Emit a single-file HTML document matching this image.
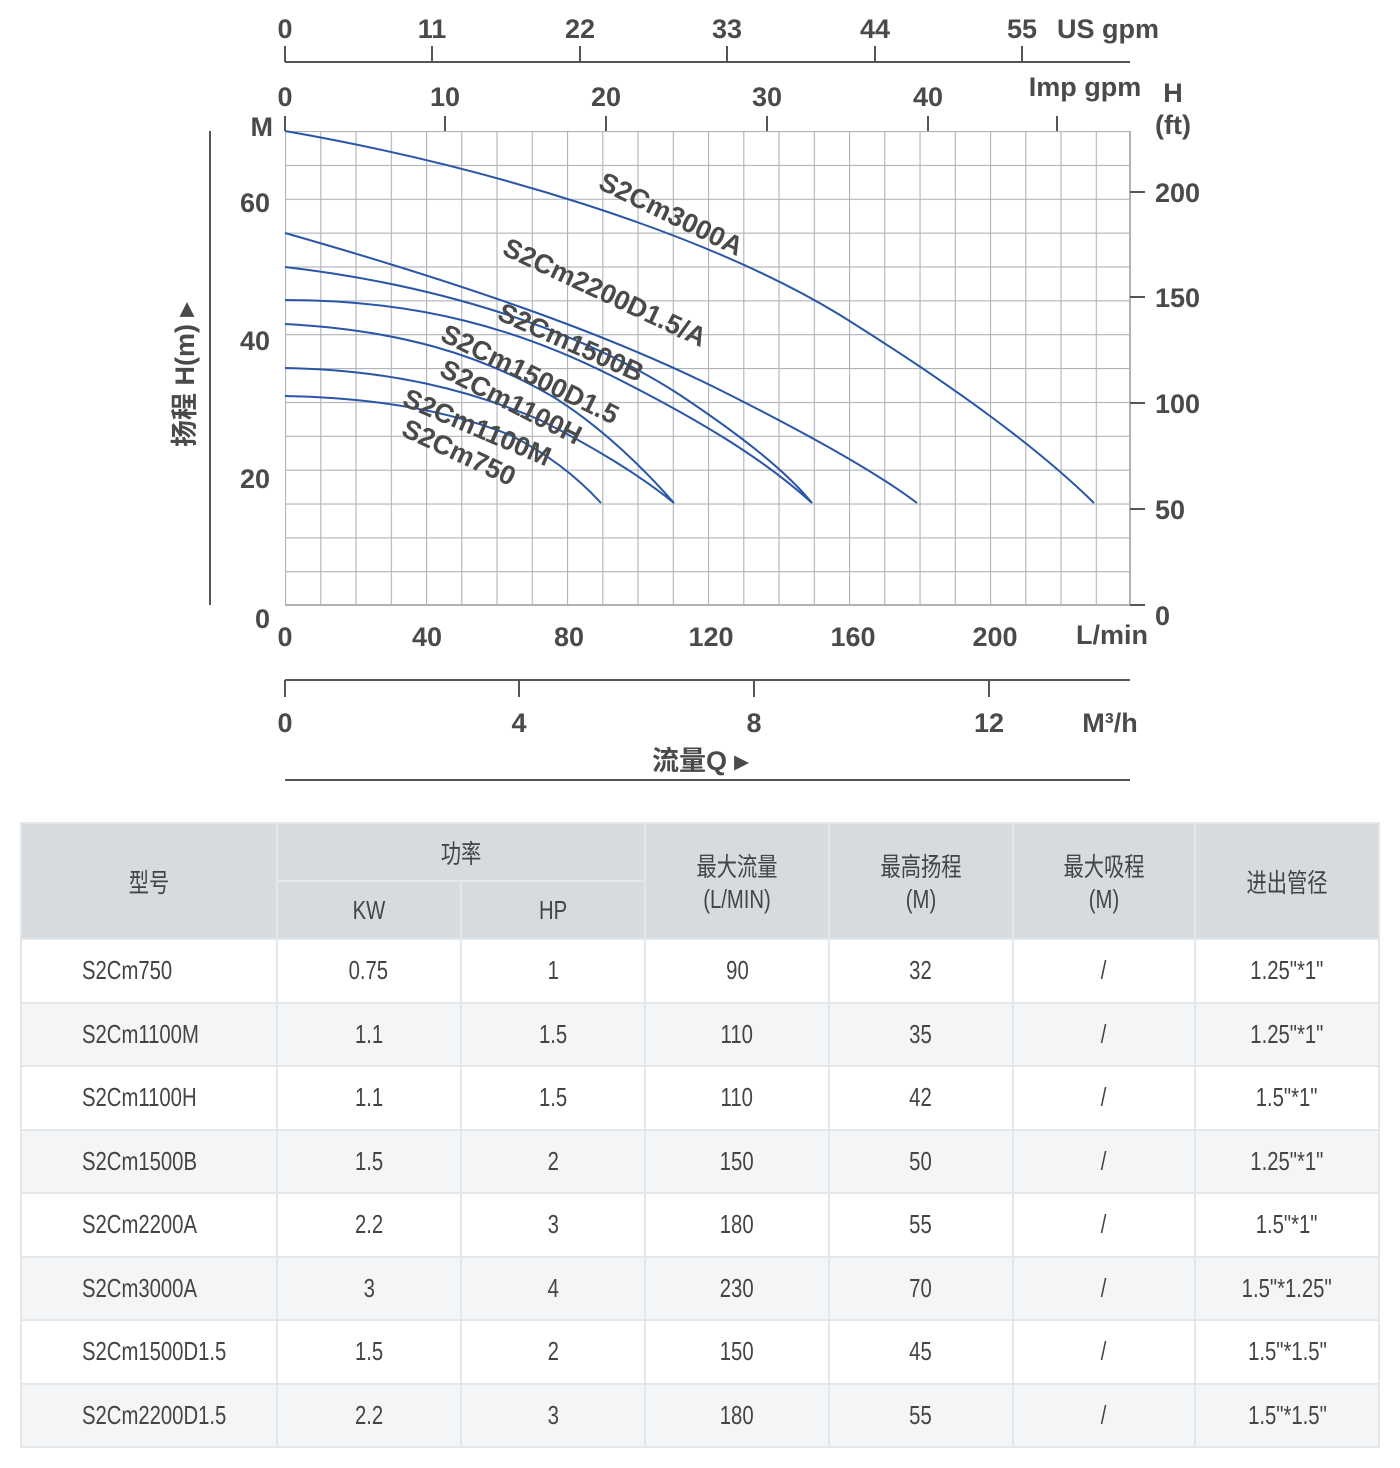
<!DOCTYPE html>
<html><head><meta charset="utf-8"><style>
body{margin:0;background:#fff;width:1400px;height:1468px;overflow:hidden;position:relative}
svg{position:absolute;left:0;top:0}
.t{font-family:"Liberation Sans","Noto Sans CJK SC",sans-serif;font-weight:bold;fill:#4a4a4a;font-size:27px}
table{position:absolute;left:20px;top:822px;border-collapse:collapse;width:1360px;font-family:"Liberation Sans","Noto Sans CJK SC",sans-serif;color:#444;font-size:26px}
td,th{border:2px solid #e4e7ea;text-align:center;font-weight:normal;padding:0}
th{background:#d6dbdf;height:56px}
td{height:61.5px}
span{display:inline-block;transform:scaleX(0.78)}
td.l span{transform-origin:left center}
tr.a td{background:#f4f5f7}
td.l{text-align:left;padding-left:60px}
</style></head><body>
<svg width="1400" height="800" viewBox="0 0 1400 800">
<defs><pattern id="g" x="285" y="131" width="35.25" height="33.86" patternUnits="userSpaceOnUse"><path d="M0 0H35.25M0 0V33.86" stroke="#aeb3b8" stroke-width="2.2" fill="none"/></pattern></defs>
<rect x="285" y="131" width="845" height="474" fill="url(#g)"/>
<path d="M1130 131V605H285" stroke="#aeb3b8" stroke-width="2" fill="none"/>
<g stroke="#555" stroke-width="2" fill="none">
<path d="M285 62H1130M285 46V62M432 46V62M580 46V62M727 46V62M875 46V62M1022 46V62"/>
<path d="M285 116V131M445 116V131M606 116V131M767 116V131M928 116V131M1057 116V131"/>
<path d="M210 131V605"/>
<path d="M1130 192H1145M1130 297H1145M1130 403H1145M1130 509H1145M1130 605H1145"/>
<path d="M285 680H1130M285 680V697M519 680V697M754 680V697M989 680V697"/>
<path d="M285 780H1130"/>
</g>
<g class="t" text-anchor="middle">
<text x="285" y="38">0</text><text x="432" y="38">11</text><text x="580" y="38">22</text><text x="727" y="38">33</text><text x="875" y="38">44</text><text x="1022" y="38">55</text>
<text x="1108" y="38">US gpm</text>
<text x="285" y="106">0</text><text x="445" y="106">10</text><text x="606" y="106">20</text><text x="767" y="106">30</text><text x="928" y="106">40</text>
<text x="1085" y="96">Imp gpm</text>
<text x="1173" y="102">H</text><text x="1173" y="134">(ft)</text>
<text x="285" y="646">0</text><text x="427" y="646">40</text><text x="569" y="646">80</text><text x="711" y="646">120</text><text x="853" y="646">160</text><text x="995" y="646">200</text>
<text x="1112" y="644">L/min</text>
<text x="285" y="732">0</text><text x="519" y="732">4</text><text x="754" y="732">8</text><text x="989" y="732">12</text>
<text x="1110" y="732">M³/h</text>
<text x="700" y="770">流量Q ▸</text>
</g>
<g class="t" text-anchor="end">
<text x="273" y="136">M</text><text x="270" y="212">60</text><text x="270" y="350">40</text><text x="270" y="488">20</text><text x="270" y="628">0</text>
</g>
<g class="t">
<text x="1155" y="202">200</text><text x="1155" y="307">150</text><text x="1155" y="413">100</text><text x="1155" y="519">50</text><text x="1155" y="625">0</text>
</g>
<text class="t" transform="translate(194,375) rotate(-90)" text-anchor="middle">扬程 H(m) ▸</text>
<g stroke="#2a56a8" stroke-width="2" fill="none">
<path d="M285 131C480 165 700 230 840 315C960 390 1040 450 1094 503"/>
<path d="M285 233C450 280 600 330 720 390C820 440 880 475 917 503"/>
<path d="M285 267C440 285 580 330 680 395C740 435 785 470 812 503"/>
<path d="M285 300C420 300 520 330 610 375C700 420 765 460 812 503"/>
<path d="M285 324C400 330 480 355 550 395C600 425 645 470 674 503"/>
<path d="M285 368C390 370 470 390 540 420C590 445 640 475 674 503"/>
<path d="M285 396C390 398 460 415 510 435C550 455 580 480 601 503"/>
</g>
<g class="t" font-size="25">
<text transform="translate(597,188) rotate(26)">S2Cm3000A</text>
<text transform="translate(501,254) rotate(25)">S2Cm2200D1.5/A</text>
<text transform="translate(496,319) rotate(24)">S2Cm1500B</text>
<text transform="translate(439,340) rotate(26)">S2Cm1500D1.5</text>
<text transform="translate(438,375) rotate(27)">S2Cm1100H</text>
<text transform="translate(401,405) rotate(23)">S2Cm1100M</text>
<text transform="translate(400,435) rotate(25)">S2Cm750</text>
</g>
</svg>
<table>
<colgroup><col style="width:256px"><col style="width:184px"><col style="width:185px"><col style="width:184px"><col style="width:184px"><col style="width:183px"><col style="width:184px"></colgroup>
<tr><th rowspan="2"><span>型号</span></th><th colspan="2"><span>功率</span></th><th rowspan="2"><span>最大流量<br>(L/MIN)</span></th><th rowspan="2"><span>最高扬程<br>(M)</span></th><th rowspan="2"><span>最大吸程<br>(M)</span></th><th rowspan="2"><span>进出管径</span></th></tr>
<tr><th><span>KW</span></th><th><span>HP</span></th></tr>
<tr><td class="l"><span>S2Cm750</span></td><td><span>0.75</span></td><td><span>1</span></td><td><span>90</span></td><td><span>32</span></td><td><span>/</span></td><td><span>1.25"*1"</span></td></tr>
<tr class="a"><td class="l"><span>S2Cm1100M</span></td><td><span>1.1</span></td><td><span>1.5</span></td><td><span>110</span></td><td><span>35</span></td><td><span>/</span></td><td><span>1.25"*1"</span></td></tr>
<tr><td class="l"><span>S2Cm1100H</span></td><td><span>1.1</span></td><td><span>1.5</span></td><td><span>110</span></td><td><span>42</span></td><td><span>/</span></td><td><span>1.5"*1"</span></td></tr>
<tr class="a"><td class="l"><span>S2Cm1500B</span></td><td><span>1.5</span></td><td><span>2</span></td><td><span>150</span></td><td><span>50</span></td><td><span>/</span></td><td><span>1.25"*1"</span></td></tr>
<tr><td class="l"><span>S2Cm2200A</span></td><td><span>2.2</span></td><td><span>3</span></td><td><span>180</span></td><td><span>55</span></td><td><span>/</span></td><td><span>1.5"*1"</span></td></tr>
<tr class="a"><td class="l"><span>S2Cm3000A</span></td><td><span>3</span></td><td><span>4</span></td><td><span>230</span></td><td><span>70</span></td><td><span>/</span></td><td><span>1.5"*1.25"</span></td></tr>
<tr><td class="l"><span>S2Cm1500D1.5</span></td><td><span>1.5</span></td><td><span>2</span></td><td><span>150</span></td><td><span>45</span></td><td><span>/</span></td><td><span>1.5"*1.5"</span></td></tr>
<tr class="a"><td class="l"><span>S2Cm2200D1.5</span></td><td><span>2.2</span></td><td><span>3</span></td><td><span>180</span></td><td><span>55</span></td><td><span>/</span></td><td><span>1.5"*1.5"</span></td></tr>
</table>
</body></html>
